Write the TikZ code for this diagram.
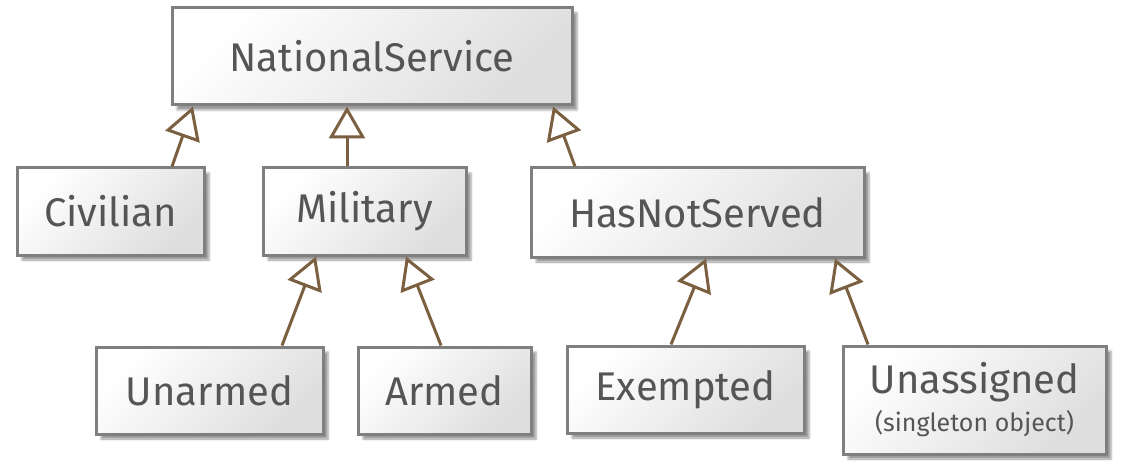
\documentclass[tikz,border=0pt]{standalone}
\usepackage{fontspec}
\setmainfont{Fira Sans}
\usetikzlibrary{arrows.meta,shadows.blur}
\definecolor{boxline}{HTML}{7F7F7F}
\definecolor{boxtext}{HTML}{555555}
\definecolor{linkcol}{HTML}{7A6040}
\tikzset{
  cls_box/.style = {rectangle, draw=boxline, line width=3pt, inner sep=0pt,
    top color=white, bottom color=black!13, shading angle=45,
    text=boxtext, align=center, font=\fontsize{40}{44}\selectfont,
    blur shadow={shadow xshift=5pt, shadow yshift=-5pt, shadow opacity=40}},% classe
  gen_link/.style = {draw=linkcol, line width=3pt,
    -{Triangle[open, fill=white, length=32pt, width=36pt, line width=3pt]}}% generalisation
}
\begin{document}
\begin{tikzpicture}[x=1pt, y=-1pt]
  \useasboundingbox (0,0) rectangle (1123,470);
  \node [cls_box, minimum width=400pt, minimum height=97pt] (nat) at (372,56.5) {NationalService};
  \node [cls_box, minimum width=187pt, minimum height=87pt] (civ) at (110.5,211.5) {Civilian};
  \node [cls_box, minimum width=203pt, minimum height=87pt] (mil) at (364.5,211.5) {Military};
  \node [cls_box, minimum width=333pt, minimum height=89pt] (hns) at (697.5,212.5) {HasNotServed};
  \node [cls_box, minimum width=227pt, minimum height=87pt] (una) at (209.5,390.5) {Unarmed};
  \node [cls_box, minimum width=173pt, minimum height=87pt] (arm) at (444.5,390.5) {Armed};
  \node [cls_box, minimum width=237pt, minimum height=87pt] (exe) at (685.5,389.5) {Exempted};
  \node [cls_box, minimum width=263pt, minimum height=108pt] (uns) at (974.5,400)
    {Unassigned\\[-6pt]{\fontsize{25}{28}\selectfont (singleton object)}};

  \draw [gen_link] ([xshift=61.5pt]civ.north) -- ([xshift=-179pt]nat.south);
  \draw [gen_link] ([xshift=-17.5pt]mil.north) -- ([xshift=-25pt]nat.south);
  \draw [gen_link] ([xshift=-122.5pt]hns.north) -- ([xshift=181pt]nat.south);
  \draw [gen_link] ([xshift=72.5pt]una.north) -- ([xshift=-48.5pt]mil.south);
  \draw [gen_link] ([xshift=-3.5pt]arm.north) -- ([xshift=41.5pt]mil.south);
  \draw [gen_link] ([xshift=-14.5pt]exe.north) -- ([xshift=8.5pt]hns.south);
  \draw [gen_link] ([xshift=-106.5pt]uns.north) -- ([xshift=137.5pt]hns.south);
\end{tikzpicture}
\end{document}
